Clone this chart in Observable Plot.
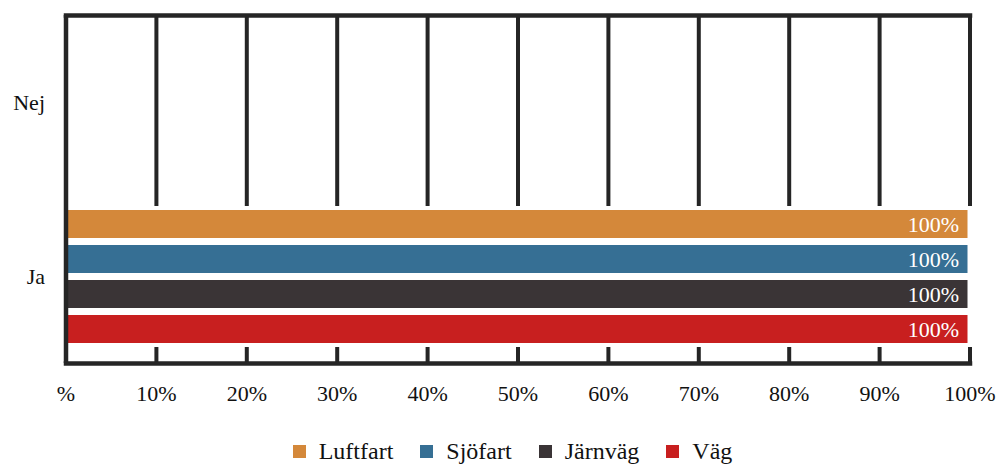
<!DOCTYPE html>
<html><head><meta charset="utf-8">
<script src="https://cdn.jsdelivr.net/npm/d3@7"></script>
<script src="https://cdn.jsdelivr.net/npm/@observablehq/plot@0.6"></script>
<style>
body{margin:0;background:#fff;font-family:"Liberation Serif",serif;}
#chart{width:1005px;height:466px;overflow:hidden;}
.lg-swatches{justify-content:center !important;margin:10px 0 0 0 !important;padding-left:20px !important;font-family:"Liberation Serif",serif !important;font-size:24px !important;color:#111 !important;min-height:33px;}
.lg-swatch{margin-right:27px !important;}
.lg-swatch:last-child{margin-right:0 !important;}
.lg-swatch > svg{margin-right:13px !important;}
</style></head><body><div id="chart"></div>
<script>
const categories = ["Nej", "Ja"];
const series = ["Luftfart", "Sjöfart", "Järnväg", "Väg"];
const colors = ["#D4883A", "#366F94", "#3A3436", "#C81F1F"];
const nejValues = [0, 0, 0, 0];
const jaValues = [100, 100, 100, 100];
const xTicks = [0, 10, 20, 30, 40, 50, 60, 70, 80, 90, 100];

const data = [];
series.forEach((s, i) => {
  data.push({category: "Nej", series: s, value: nejValues[i]});
  data.push({category: "Ja", series: s, value: jaValues[i]});
});
const shown = data.filter(d => d.value > 0);

const plot = Plot.plot({
  width: 1005, height: 425,
  marginLeft: 65.5, marginRight: 35.5, marginTop: 15, marginBottom: 62,
  style: {fontFamily: "Liberation Serif, serif", fontSize: "22px", color: "#111", background: "white"},
  x: {domain: [0, 100], ticks: xTicks, tickFormat: d => d === 0 ? "%" : d + "%", tickSize: 0, tickPadding: 22, label: null},
  fy: {domain: categories, padding: 0, axis: "left", tickSize: 0, tickPadding: 21, label: null},
  y: {domain: series, axis: null, paddingInner: 0.2, paddingOuter: 0.52},
  color: {domain: series, range: colors},
  marks: [
    Plot.ruleX(xTicks, {x: d => d, stroke: "#252525", strokeWidth: 4}),
    Plot.frame({anchor: "top", fy: [categories[0]], stroke: "#252525", strokeWidth: 4.5}),
    Plot.frame({anchor: "bottom", fy: [categories[1]], stroke: "#252525", strokeWidth: 4.5}),
    Plot.barX(shown, {x: "value", y: "series", fy: "category", fill: "white", stroke: "white", strokeWidth: 8}),
    Plot.barX(data, {x: "value", y: "series", fy: "category", fill: "series", insetRight: 2}),
    Plot.ruleX([xTicks[0]], {x: d => d, stroke: "#252525", strokeWidth: 4.5}),
    Plot.text(shown, {x: "value", y: "series", fy: "category", text: d => d.value + "%", textAnchor: "end", dx: -11, fill: "white", fontSize: 22})
  ]
});
const chart = document.getElementById("chart");
chart.appendChild(plot);
const legend = Plot.legend({color: {domain: series, range: colors}, swatchSize: 13, className: "lg"});
chart.appendChild(legend);
</script></body></html>
